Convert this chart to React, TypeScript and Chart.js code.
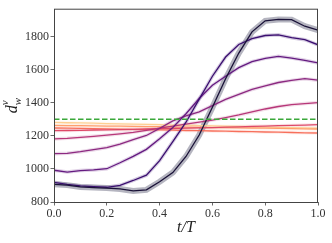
import { useEffect, useRef } from 'react';
import { Chart, registerables } from 'chart.js';
Chart.register(...registerables);

// time axis (t/T)
const T = [0, 0.05, 0.1, 0.15, 0.2, 0.25, 0.3, 0.35, 0.4, 0.45, 0.5, 0.55, 0.6, 0.65, 0.7, 0.75, 0.8, 0.85, 0.9, 0.95, 1.0];

// series values
const s1 = [907, 902, 891, 887, 884, 879, 867, 873, 922, 978, 1075, 1205, 1372, 1545, 1700, 1828, 1895, 1903, 1902, 1862, 1838];
const s2 = [919, 906, 897, 893, 889, 901, 930, 962, 1050, 1165, 1282, 1422, 1560, 1676, 1752, 1787, 1806, 1810, 1793, 1781, 1750];
const s3 = [992, 981, 990, 994, 1001, 1037, 1076, 1118, 1182, 1250, 1333, 1425, 1505, 1560, 1612, 1648, 1668, 1680, 1670, 1656, 1640];
const s4 = [1092, 1094, 1104, 1116, 1129, 1150, 1177, 1202, 1245, 1290, 1320, 1345, 1382, 1420, 1450, 1480, 1502, 1522, 1535, 1545, 1536];
const s5 = [1181, 1185, 1191, 1197, 1204, 1212, 1221, 1233, 1246, 1258, 1270, 1282, 1295, 1310, 1326, 1344, 1362, 1377, 1388, 1395, 1401];
const s6 = [1231, 1232, 1233, 1235, 1236, 1237, 1239, 1241, 1243, 1244, 1246, 1248, 1250, 1252, 1254, 1257, 1259, 1261, 1263, 1265, 1267];
const s7 = [1247, 1246, 1245, 1243, 1242, 1240, 1239, 1237, 1236, 1234, 1232, 1231, 1229, 1228, 1226, 1225, 1223, 1222, 1220, 1218, 1217];
const s8 = [1263, 1262, 1261, 1260, 1259, 1258, 1257, 1256, 1255, 1253, 1252, 1251, 1250, 1249, 1248, 1247, 1246, 1245, 1243, 1242, 1241];
const s9 = [1281, 1279, 1278, 1276, 1274, 1272, 1271, 1269, 1267, 1265, 1264, 1262, 1260, 1258, 1257, 1255, 1253, 1251, 1250, 1248, 1246];

const REF_T = [0, 1];
const REF_V = [1300, 1300];

const Y_TICKS = [800, 1000, 1200, 1400, 1600, 1800];
const X_TICKS = [0, 0.2, 0.4, 0.6, 0.8, 1.0];

const SERIES = [s1, s2, s3, s4, s5, s6, s7, s8, s9];
const COLORS = ['#1a1238', '#3b0f70', '#641a80', '#8c2981', '#b73779', '#de4968', '#f7705c', '#fe9f6d', '#fecf92'];
const BAND_COLORS = ['rgba(120,120,140,0.55)', 'rgba(59,15,112,0.22)', 'rgba(100,26,128,0.2)', 'rgba(140,41,129,0.18)', 'rgba(183,55,121,0.16)', 'rgba(222,73,104,0.12)', 'rgba(247,112,92,0.12)', 'rgba(254,159,109,0.12)', 'rgba(254,207,146,0.12)'];

const framePlugin = {
  id: 'frame',
  afterDraw(chart: any) {
    const { ctx, chartArea } = chart;
    const { left, right, top, bottom } = chartArea;
    ctx.save();
    ctx.strokeStyle = '#444';
    ctx.lineWidth = 1;
    ctx.strokeRect(left + 0.5, top + 0.5, right - left - 1, bottom - top);
    // x title
    ctx.fillStyle = '#222';
    ctx.font = 'italic 16px "Liberation Serif"';
    ctx.textAlign = 'center';
    ctx.textBaseline = 'middle';
    ctx.fillText('t/T', (left + right) / 2, 228);
    // y title
    ctx.translate(12, (top + bottom) / 2);
    ctx.rotate(-Math.PI / 2);
    ctx.textAlign = 'left';
    ctx.textBaseline = 'alphabetic';
    ctx.font = 'italic 16px "Liberation Serif"';
    ctx.fillText('d', -8, 5);
    ctx.font = 'italic 11px "Liberation Serif"';
    ctx.fillText('w', 0, 9);
    ctx.fillText('v\u20D7', 0, -4);
    ctx.restore();
  },
};

export default function App() {
  const ref = useRef<HTMLCanvasElement>(null);
  useEffect(() => {
    if (!ref.current) return;
    const datasets: any[] = [];
    SERIES.forEach((s, i) => {
      const pts = T.map((t, k) => ({ x: t, y: s[k] }));
      datasets.push({
        data: pts,
        borderColor: BAND_COLORS[i],
        borderWidth: i === 0 ? 6 : 3.5,
        pointRadius: 0,
        order: 3,
        tension: 0,
      });
      datasets.push({
        data: pts,
        borderColor: COLORS[i],
        borderWidth: 1.3,
        pointRadius: 0,
        order: 2,
        tension: 0,
      });
    });
    datasets.push({
      data: REF_T.map((t, k) => ({ x: t, y: REF_V[k] })),
      borderColor: '#3aa83a',
      borderWidth: 1.6,
      borderDash: [5.5, 2.5],
      pointRadius: 0,
      order: 0,
    });
    const chart = new Chart(ref.current, {
      type: 'line',
      data: { datasets },
      plugins: [framePlugin],
      options: {
        animation: false,
        responsive: true,
        maintainAspectRatio: false,
        layout: { padding: { top: 5, right: 14, left: 0, bottom: 0 } },
        plugins: { legend: { display: false }, tooltip: { enabled: false } },
        scales: {
          x: {
            type: 'linear',
            min: 0,
            max: 1,
            afterBuildTicks: (axis: any) => {
              axis.ticks = X_TICKS.map((v) => ({ value: v }));
            },
            afterFit: (scale: any) => {
              scale.height = 41;
            },
            ticks: {
              callback: (v: any) => Number(v).toFixed(1),
              font: { family: 'Liberation Serif', size: 12 },
              color: '#333',
              padding: 1,
              maxRotation: 0,
            },
            grid: { drawOnChartArea: false, drawTicks: true, tickLength: 3.5, color: '#444', lineWidth: 0.8 },
            border: { display: false },
          },
          y: {
            type: 'linear',
            min: 800,
            max: 1968,
            afterBuildTicks: (axis: any) => {
              axis.ticks = Y_TICKS.map((v) => ({ value: v }));
            },
            afterFit: (scale: any) => {
              scale.width = 54;
            },
            ticks: {
              callback: (v: any) => String(v),
              font: { family: 'Liberation Serif', size: 12 },
              color: '#333',
              padding: 1.5,
            },
            grid: { drawOnChartArea: false, drawTicks: true, tickLength: 3.5, color: '#444', lineWidth: 0.8 },
            border: { display: false },
          },
        },
      },
    });
    return () => chart.destroy();
  }, []);
  return (
    <div style={{ position: 'fixed', left: 0, top: 0, width: 332, height: 243, background: '#fff' }}>
      <canvas ref={ref} />
    </div>
  );
}
